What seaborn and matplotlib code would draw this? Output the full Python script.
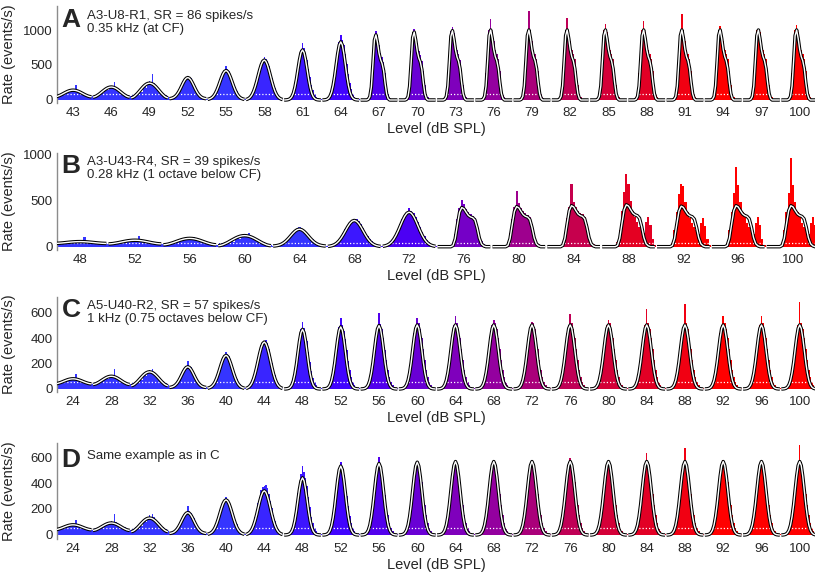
import numpy as np
import pandas as pd
import seaborn as sns
import matplotlib.pyplot as plt
from matplotlib.colors import LinearSegmentedColormap

# cycle shapes: 25 phase bins per stimulus cycle, peak = 1
curve_shapes = {
    'broad': [0.004, 0.036, 0.095, 0.19, 0.29, 0.41, 0.535, 0.655, 0.77, 0.866, 0.94, 0.984, 1.0,
              0.984, 0.94, 0.866, 0.77, 0.655, 0.535, 0.41, 0.29, 0.19, 0.095, 0.036, 0.004],
    'mid': [0.011, 0.023, 0.044, 0.079, 0.135, 0.216, 0.325, 0.458, 0.607, 0.755, 0.882, 0.969, 1.0,
            0.969, 0.882, 0.755, 0.607, 0.458, 0.325, 0.216, 0.135, 0.079, 0.044, 0.023, 0.011],
    'narrow': [0.0, 0.001, 0.004, 0.011, 0.029, 0.066, 0.135, 0.25, 0.41, 0.607, 0.80, 0.946, 1.0,
               0.946, 0.80, 0.607, 0.41, 0.25, 0.135, 0.066, 0.029, 0.011, 0.004, 0.001, 0.0],
    'shoulder_a': [0, 0, 0, 0, 0, 0.01, 0.05, 0.2, 0.55, 0.92, 1.0, 0.88, 0.72,
                   0.62, 0.56, 0.45, 0.25, 0.09, 0.02, 0, 0, 0, 0, 0, 0],
    'shoulder_b': [0, 0, 0, 0, 0, 0, 0, 0.03, 0.2, 0.55, 0.88, 1.0, 0.97,
                   0.88, 0.8, 0.76, 0.74, 0.68, 0.48, 0.22, 0.07, 0.02, 0, 0, 0],
}
curve_shapes['split_b'] = curve_shapes['shoulder_b']

hist_shapes = {
    'broad': [0.1, 0.25, 0.05, 0.3, 0.2, 0.45, 0.5, 0.4, 0.75, 0.8, 0.7, 1.0, 1.15,
              0.9, 1.25, 1.0, 0.8, 0.75, 0.5, 0.55, 0.3, 0.35, 0.15, 0.2, 0.05],
    'mid': [0.02, 0.03, 0.05, 0.09, 0.15, 0.25, 0.37, 0.51, 0.66, 0.8, 0.93, 1.0, 1.08,
            1.04, 0.97, 0.86, 0.71, 0.56, 0.42, 0.3, 0.2, 0.13, 0.08, 0.04, 0.02],
    'narrow': [0, 0.005, 0.01, 0.02, 0.04, 0.08, 0.15, 0.28, 0.46, 0.68, 0.87, 1.0, 1.06,
               1.03, 0.94, 0.8, 0.62, 0.45, 0.3, 0.19, 0.11, 0.06, 0.035, 0.02, 0.01],
    'shoulder_a': [0, 0, 0, 0.005, 0.01, 0.03, 0.12, 0.38, 0.72, 1.0, 1.06, 0.97, 0.84,
                   0.72, 0.66, 0.58, 0.42, 0.22, 0.09, 0.04, 0.02, 0.01, 0, 0, 0],
    'shoulder_b': [0, 0, 0, 0, 0, 0.005, 0.02, 0.1, 0.33, 0.7, 0.98, 1.1, 1.08,
                   0.97, 0.88, 0.83, 0.79, 0.73, 0.56, 0.32, 0.14, 0.06, 0.02, 0.005, 0],
    'split_b': [0, 0, 0, 0, 0, 0.005, 0.02, 0.1, 0.4, 0.85, 1.3, 1.9, 1.5,
                1.1, 0.85, 0.72, 0.58, 0.48, 0.4, 0.32, 0.58, 0.72, 0.52, 0.18, 0.04],
}

# Panel A
levels_a = [43, 46, 49, 52, 55, 58, 61, 64, 67, 70, 73, 76, 79, 82, 85, 88, 91, 94, 97, 100]
peak_a = [140, 185, 240, 320, 420, 570, 715, 830, 930, 970, 990, 1000, 1000, 1000, 1000,
          1000, 1000, 1000, 1000, 1000]
floor_a = [45, 40, 30, 15, 5, 0, 0, 0, 0, 0, 0, 0, 0, 0, 0, 0, 0, 0, 0, 0]
top_a = [215, 260, 370, 330, 480, 610, 810, 930, 980, 1010, 1050, 1160, 1270, 1170, 1085,
         1130, 1230, 1060, 1010, 1070]
kind_a = ['broad'] * 3 + ['mid'] * 3 + ['narrow'] * 2 + ['shoulder_a'] * 12

# Panel B
levels_b = [48, 52, 56, 60, 64, 68, 72, 76, 80, 84, 88, 92, 96, 100]
peak_b = [55, 70, 90, 120, 190, 285, 375, 425, 435, 445, 455, 440, 445, 445]
floor_b = [35, 30, 20, 10, 5, 0, 0, 0, 0, 0, 0, 0, 0, 0]
top_b = [105, 120, 100, 150, 215, 275, 425, 510, 600, 680, 795, 685, 870, 960]
kind_b = ['broad'] * 4 + ['mid'] * 3 + ['shoulder_b'] * 3 + ['split_b'] * 4

# Panels C and D (same responses, two model fits)
levels_c = [24, 28, 32, 36, 40, 44, 48, 52, 56, 60, 64, 68, 72, 76, 80, 84, 88, 92, 96, 100]
peak_c = [80, 100, 135, 175, 265, 370, 470, 490, 500, 505, 505, 505, 505, 505, 505, 505,
          505, 505, 505, 505]
floor_c = [40, 35, 25, 10, 3, 0, 0, 0, 0, 0, 0, 0, 0, 0, 0, 0, 0, 0, 0, 0]
top_c = [115, 160, 160, 220, 290, 380, 530, 560, 600, 560, 575, 545, 530, 590, 545, 630,
         670, 575, 575, 690]
kind_c = ['broad'] * 3 + ['mid'] * 3 + ['narrow'] * 14
peak_d = [78, 92, 130, 172, 270, 340, 440, 530, 550, 560, 565, 565, 565, 565, 565, 565,
          565, 565, 565, 565]
floor_d = [40, 35, 25, 10, 3, 0, 0, 0, 0, 0, 0, 0, 0, 0, 0, 0, 0, 0, 0, 0]

NB = 25
cmap = LinearSegmentedColormap.from_list('lvl', ['#3535ff', '#4200ff', '#8a00b0', '#d0003c', '#ff0000'])


def make_hist(peak, floor, kinds, top):
    out = []
    for i in range(len(peak)):
        s = np.array(hist_shapes[kinds[i]])
        h = floor[i] + (peak[i] - floor[i]) * s
        h[np.argmax(s)] = top[i]
        out.append(h)
    return out


def curve_frame(levels, peak, floor, kinds):
    parts = []
    for i, lv in enumerate(levels):
        s = np.array(curve_shapes[kinds[i]])
        x = i - 0.5 + (np.arange(NB) + 0.5) / NB
        parts.append(pd.DataFrame({'x': x, 'rate': floor[i] + (peak[i] - floor[i]) * s, 'cycle': lv}))
    return pd.concat(parts, ignore_index=True)


def draw_panel(ax, levels, hists, curves, sr, crange, ylim, yticks, letter, note, note_y):
    lo, hi = crange
    for i, lv in enumerate(levels):
        edges = i - 0.5 + np.arange(NB + 1) / NB
        col = cmap(np.clip((lv - lo) / (hi - lo), 0, 1))
        ax.stairs(hists[i], edges, fill=True, color=col, lw=0, zorder=1)
    ax.axhline(sr, color='white', ls=(0, (1, 1.6)), lw=0.9, zorder=2)
    sns.lineplot(data=curves, x='x', y='rate', units='cycle', estimator=None, sort=False,
                 color='black', lw=2.5, ax=ax, zorder=3, solid_capstyle='butt')
    sns.lineplot(data=curves, x='x', y='rate', units='cycle', estimator=None, sort=False,
                 color='white', lw=1.0, ax=ax, zorder=4, solid_capstyle='butt')
    n = len(levels)
    ax.set_xlim(-0.42, n - 0.6)
    ax.set_ylim(*ylim)
    ax.set_xticks(range(n))
    ax.set_xticklabels([str(v) for v in levels])
    ax.set_yticks(yticks)
    ax.tick_params(length=0, labelsize=9.5, pad=3)
    for side in ['top', 'right', 'bottom']:
        ax.spines[side].set_visible(False)
    ax.spines['left'].set_color('#8c8c8c')
    ax.spines['left'].set_linewidth(1.0)
    ax.set_xlabel('Level (dB SPL)', fontsize=10.5, labelpad=2)
    ax.set_ylabel('Rate (events/s)', fontsize=10.5)
    ax.yaxis.set_label_coords(-0.054, 0.5)
    ax.text(0.006, note_y + 0.015, letter, transform=ax.transAxes, fontsize=19,
            fontweight='bold', va='top')
    ax.text(0.039, note_y, note, transform=ax.transAxes, fontsize=9.5, va='top', linespacing=1.15)


sns.set_theme(style='white')
plt.rcParams['font.family'] = ['Liberation Sans', 'DejaVu Sans']

fig = plt.figure(figsize=(8.17, 5.76), dpi=100)
L, W = 57 / 817, 758 / 817
ax_a = fig.add_axes([L, 1 - 103 / 576, W, 97 / 576])
ax_b = fig.add_axes([L, 1 - 250 / 576, W, 97 / 576])
ax_c = fig.add_axes([L, 1 - 392 / 576, W, 95 / 576])
ax_d = fig.add_axes([L, 1 - 539 / 576, W, 96 / 576])

hist_a = make_hist(peak_a, floor_a, kind_a, top_a)
hist_b = make_hist(peak_b, floor_b, kind_b, top_b)
hist_c = make_hist(peak_c, floor_c, kind_c, top_c)

draw_panel(ax_a, levels_a, hist_a, curve_frame(levels_a, peak_a, floor_a, kind_a), 86, (55, 94),
           (-43, 1343), [0, 500, 1000], 'A', 'A3-U8-R1, SR = 86 spikes/s\n0.35 kHz (at CF)', 0.96)
draw_panel(ax_b, levels_b, hist_b, curve_frame(levels_b, peak_b, floor_b, kind_b), 39, (64, 92),
           (-36, 1018), [0, 500, 1000], 'B', 'A3-U43-R4, SR = 39 spikes/s\n0.28 kHz (1 octave below CF)', 0.97)
draw_panel(ax_c, levels_c, hist_c, curve_frame(levels_c, peak_c, floor_c, kind_c), 57, (40, 92),
           (-24, 726), [0, 200, 400, 600], 'C', 'A5-U40-R2, SR = 57 spikes/s\n1 kHz (0.75 octaves below CF)', 0.97)
draw_panel(ax_d, levels_c, hist_c, curve_frame(levels_c, peak_d, floor_d, kind_c), 57, (40, 92),
           (-31, 708), [0, 200, 400, 600], 'D', 'Same example as in C', 0.93)

fig.savefig('out.png', dpi=100)
